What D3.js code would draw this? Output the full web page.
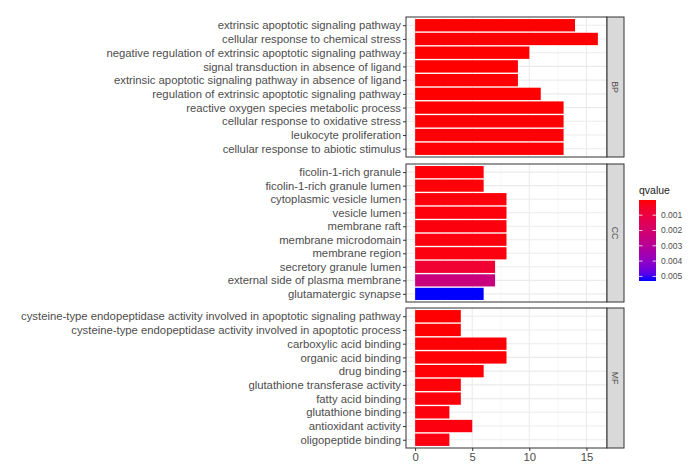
<!DOCTYPE html>
<html>
<head>
<meta charset="utf-8">
<script src="https://cdn.jsdelivr.net/npm/d3@7"></script>
<style>
  body { margin: 0; background: #fff; }
  text { font-family: "Liberation Sans", Arial, sans-serif; }
</style>
</head>
<body>
<div id="chart"></div>
<script>
(function(){
    var width = 700;
    var height = 472;

    // GO terms, listed top to bottom as drawn
    var bpTerms = [
        "extrinsic apoptotic signaling pathway",
        "cellular response to chemical stress",
        "negative regulation of extrinsic apoptotic signaling pathway",
        "signal transduction in absence of ligand",
        "extrinsic apoptotic signaling pathway in absence of ligand",
        "regulation of extrinsic apoptotic signaling pathway",
        "reactive oxygen species metabolic process",
        "cellular response to oxidative stress",
        "leukocyte proliferation",
        "cellular response to abiotic stimulus"
    ];
    var bpCounts = [14, 16, 10, 9, 9, 11, 13, 13, 13, 13];
    var bpQ = [0.00001, 0.00001, 0.00002, 0.00002, 0.00002, 0.00002, 0.00003, 0.00004, 0.00005, 0.00006];

    var ccTerms = [
        "ficolin-1-rich granule",
        "ficolin-1-rich granule lumen",
        "cytoplasmic vesicle lumen",
        "vesicle lumen",
        "membrane raft",
        "membrane microdomain",
        "membrane region",
        "secretory granule lumen",
        "external side of plasma membrane",
        "glutamatergic synapse"
    ];
    var ccCounts = [6, 6, 8, 8, 8, 8, 8, 7, 7, 6];
    var ccQ = [0.00008, 0.00008, 0.00010, 0.00010, 0.00012, 0.00012, 0.00014, 0.0007, 0.0024, 0.0053];

    var mfTerms = [
        "cysteine-type endopeptidase activity involved in apoptotic signaling pathway",
        "cysteine-type endopeptidase activity involved in apoptotic process",
        "carboxylic acid binding",
        "organic acid binding",
        "drug binding",
        "glutathione transferase activity",
        "fatty acid binding",
        "glutathione binding",
        "antioxidant activity",
        "oligopeptide binding"
    ];
    var mfCounts = [4, 4, 8, 8, 6, 4, 4, 3, 5, 3];
    var mfQ = [0.00003, 0.00003, 0.00005, 0.00005, 0.00006, 0.00008, 0.00010, 0.00012, 0.00014, 0.00016];

    var panelNames = ["BP", "CC", "MF"];
    var xTicks = [0, 5, 10, 15];
    var xMinor = [2.5, 7.5, 12.5];
    var legendTicks = [0.001, 0.002, 0.003, 0.004, 0.005];

    var panels = [
        {name: panelNames[0], terms: bpTerms, counts: bpCounts, q: bpQ, top: 17, bottom: 157},
        {name: panelNames[1], terms: ccTerms, counts: ccCounts, q: ccQ, top: 164, bottom: 302},
        {name: panelNames[2], terms: mfTerms, counts: mfCounts, q: mfQ, top: 308, bottom: 448}
    ];

    var left = 406, right = 607, stripW = 17;
    var labelSize = "11.3px";

    var allQ = bpQ.concat(ccQ, mfQ);
    var qExtent = d3.extent(allQ);
    var color = d3.scaleLinear()
        .domain(qExtent)
        .range(["#ff0000", "#0000ff"])
        .interpolate(d3.interpolateLab);

    var x = d3.scaleLinear()
        .domain([-0.8, 16.8])
        .range([left, right]);

    var svg = d3.select("#chart")
        .append("svg")
        .attr("width", width)
        .attr("height", height);

    panels.forEach(function(p){
        var y = d3.scalePoint()
            .domain(p.terms)
            .range([p.top, p.bottom])
            .padding(0.6);
        var barH = y.step() * 0.9;

        var g = svg.append("g");

        g.append("rect")
            .attr("x", left).attr("y", p.top)
            .attr("width", right - left).attr("height", p.bottom - p.top)
            .attr("fill", "#fff");

        // grid
        g.selectAll(".minor").data(xMinor).enter().append("line")
            .attr("x1", function(d){ return x(d); })
            .attr("x2", function(d){ return x(d); })
            .attr("y1", p.top).attr("y2", p.bottom)
            .attr("stroke", "#f2f2f2").attr("stroke-width", 0.6);
        g.selectAll(".major").data(xTicks).enter().append("line")
            .attr("x1", function(d){ return x(d); })
            .attr("x2", function(d){ return x(d); })
            .attr("y1", p.top).attr("y2", p.bottom)
            .attr("stroke", "#ebebeb").attr("stroke-width", 1.1);
        g.selectAll(".hgrid").data(p.terms).enter().append("line")
            .attr("x1", left).attr("x2", right)
            .attr("y1", function(d){ return y(d); })
            .attr("y2", function(d){ return y(d); })
            .attr("stroke", "#ebebeb").attr("stroke-width", 1.1);

        // bars
        g.selectAll(".bar").data(p.terms).enter().append("rect")
            .attr("x", x(0))
            .attr("y", function(d){ return y(d) - barH / 2; })
            .attr("width", function(d, i){ return x(p.counts[i]) - x(0); })
            .attr("height", barH)
            .attr("fill", function(d, i){ return color(p.q[i]); });

        // border
        g.append("rect")
            .attr("x", left).attr("y", p.top)
            .attr("width", right - left).attr("height", p.bottom - p.top)
            .attr("fill", "none").attr("stroke", "#333").attr("stroke-width", 1);

        // y axis
        var yAxis = d3.axisLeft(y).tickSize(3).tickPadding(2);
        var ya = g.append("g")
            .attr("transform", "translate(" + left + ",0)")
            .call(yAxis);
        ya.select(".domain").remove();
        ya.selectAll(".tick line").attr("stroke", "#333");
        ya.selectAll(".tick text")
            .attr("fill", "#4d4d4d")
            .style("font-size", labelSize)
            .style("font-family", "'Liberation Sans', Arial, sans-serif");

        // strip
        g.append("rect")
            .attr("x", right).attr("y", p.top)
            .attr("width", stripW).attr("height", p.bottom - p.top)
            .attr("fill", "#d9d9d9").attr("stroke", "#333").attr("stroke-width", 1);
        g.append("text")
            .attr("transform", "translate(" + (right + stripW / 2) + "," + ((p.top + p.bottom) / 2) + ") rotate(90)")
            .attr("text-anchor", "middle")
            .attr("dy", "0.35em")
            .attr("fill", "#4d4d4d")
            .style("font-size", "8.8px")
            .text(p.name);
    });

    // x axis
    var xa = svg.append("g")
        .attr("transform", "translate(0," + panels[2].bottom + ")")
        .call(d3.axisBottom(x).tickValues(xTicks).tickSize(3).tickPadding(2).tickFormat(d3.format("d")));
    xa.select(".domain").remove();
    xa.selectAll(".tick line").attr("stroke", "#333");
    xa.selectAll(".tick text")
        .attr("fill", "#4d4d4d")
        .style("font-size", labelSize)
        .style("font-family", "'Liberation Sans', Arial, sans-serif");

    // legend
    var lgTop = 200, lgBottom = 281, lgX = 639, lgW = 17;
    var lgScale = d3.scaleLinear().domain(qExtent).range([lgTop, lgBottom]);

    var defs = svg.append("defs");
    var grad = defs.append("linearGradient")
        .attr("id", "qgrad")
        .attr("x1", "0").attr("y1", "0").attr("x2", "0").attr("y2", "1");
    d3.range(0, 1.0001, 0.1).forEach(function(t){
        grad.append("stop")
            .attr("offset", t)
            .attr("stop-color", color(qExtent[0] + t * (qExtent[1] - qExtent[0])));
    });

    svg.append("text")
        .attr("x", lgX).attr("y", 194)
        .attr("fill", "#1a1a1a")
        .style("font-size", "10.5px")
        .text("qvalue");

    svg.append("rect")
        .attr("x", lgX).attr("y", lgTop)
        .attr("width", lgW).attr("height", lgBottom - lgTop)
        .attr("fill", "url(#qgrad)");

    var lt = svg.append("g");
    lt.selectAll(".tl").data(legendTicks).enter().append("line")
        .attr("x1", lgX).attr("x2", lgX + 3.5)
        .attr("y1", function(d){ return lgScale(d); })
        .attr("y2", function(d){ return lgScale(d); })
        .attr("stroke", "#fff").attr("stroke-width", 0.8);
    lt.selectAll(".tr").data(legendTicks).enter().append("line")
        .attr("x1", lgX + lgW - 3.5).attr("x2", lgX + lgW)
        .attr("y1", function(d){ return lgScale(d); })
        .attr("y2", function(d){ return lgScale(d); })
        .attr("stroke", "#fff").attr("stroke-width", 0.8);
    lt.selectAll(".tt").data(legendTicks).enter().append("text")
        .attr("x", 661)
        .attr("y", function(d){ return lgScale(d); })
        .attr("dy", "0.35em")
        .attr("fill", "#4d4d4d")
        .style("font-size", "8.5px")
        .text(function(d){ return d3.format(".3f")(d); });
})();
</script>
</body>
</html>
